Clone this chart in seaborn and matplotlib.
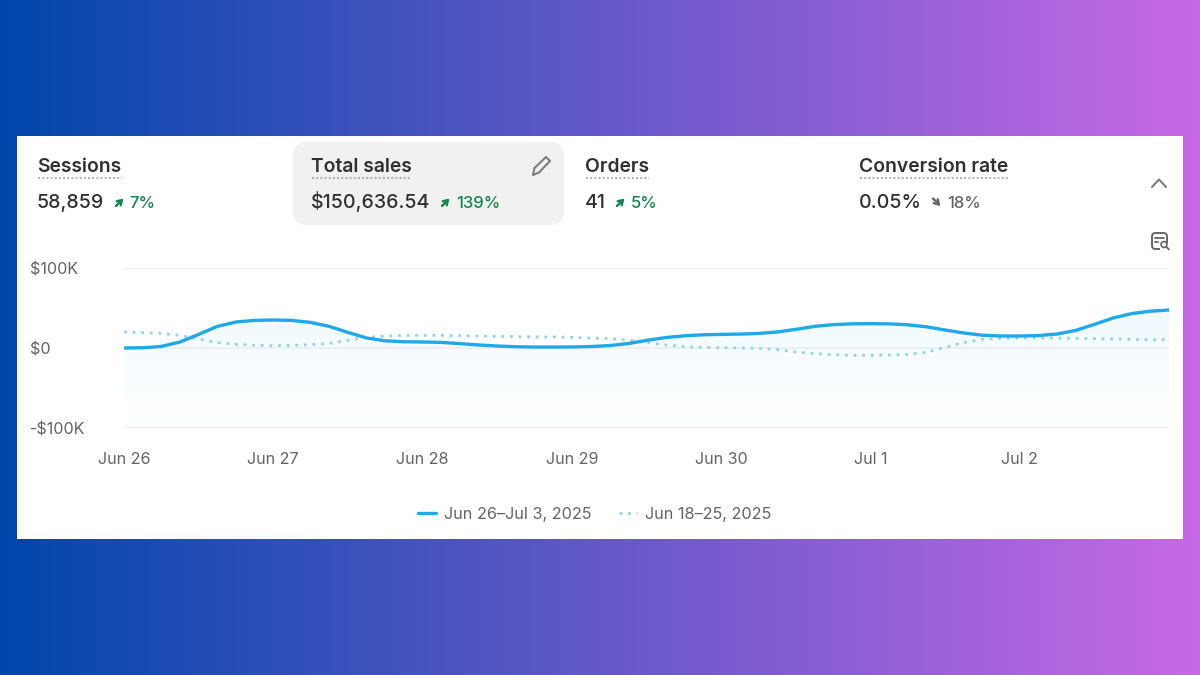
import numpy as np
import pandas as pd
import seaborn as sns
import matplotlib.pyplot as plt
from matplotlib.patches import FancyBboxPatch, Rectangle, Polygon
from matplotlib.ticker import FixedLocator
import matplotlib.dates as mdates

# sales in $K, one reading every 3 hours
current_sales = [0, 0.3, 2, 7.5, 17, 27, 32.5, 34.5, 35, 34.5, 32, 27, 19.5, 12.5, 9, 7.8, 7.5, 7, 5.5, 3.8,
                 2.5, 1.6, 1.2, 1.2, 1.3, 1.8, 3, 5.5, 9.5, 13, 15.2, 16.5, 17, 17.4, 18.2, 20, 23.3, 27,
                 29.2, 30.2, 30.4, 30.2, 29, 26.5, 22.5, 18.8, 16, 15, 15, 15.5, 17.5, 22, 29.5, 37.5, 43, 46, 47.5]
previous_sales = [20, 19.2, 18.3, 15.8, 11.3, 6.7, 4.6, 3.3, 2.9, 3.3, 4.2, 5.8, 9.6, 13.3, 15, 15.8, 15.8, 15.8,
                  15.4, 15, 14.6, 14.2, 13.8, 13.8, 13.3, 12.5, 11.7, 10, 7, 3.8, 1.7, 0.8, 0.4, 0, -0.4, -2, -5,
                  -7, -8.3, -9.2, -9.2, -8.8, -7.9, -5.4, 0.8, 6.7, 10.8, 12, 12.5, 12.5, 12.5, 12, 11.7, 11.3,
                  10.8, 10.4, 10.4]
times = pd.date_range("2025-06-26", periods=len(current_sales), freq="3h")

day_ticks = pd.date_range("2025-06-26", periods=7, freq="D")
day_labels = ["Jun 26", "Jun 27", "Jun 28", "Jun 29", "Jun 30", "Jul 1", "Jul 2"]
y_ticks = [-100, 0, 100]
y_labels = ["-$100K", "$0", "$100K"]
legend_labels = ["Jun 26\u2013Jul 3, 2025", "Jun 18\u201325, 2025"]

metric_names = ["Sessions", "Total sales", "Orders", "Conversion rate"]
metric_values = ["58,859", "$150,636.54", "41", "0.05%"]
metric_changes = ["7%", "139%", "5%", "18%"]

sns.set_theme(style="white")
plt.rcParams["font.family"] = ["Inter", "DejaVu Sans"]

df = pd.DataFrame({"time": times, "current": current_sales, "previous": previous_sales})

W, H = 1200, 675
fig = plt.figure(figsize=(12, 6.75), dpi=100)

# background + white card, in pixel coordinates
bg = fig.add_axes([0, 0, 1, 1])
bg.set_xlim(0, W)
bg.set_ylim(H, 0)
bg.axis("off")
ramp = np.linspace(0, 1, 600)
start = np.array([0, 71, 171]) / 255
end = np.array([200, 105, 230]) / 255
grad = (start[None, None, :] + (end - start)[None, None, :] * ramp[None, :, None])
bg.imshow(grad, extent=[0, W, H, 0], aspect="auto", zorder=0)
bg.add_patch(Rectangle((17, 136), 1166, 403, fc="white", ec="none", zorder=1))
bg.add_patch(FancyBboxPatch((307, 156), 243, 55, boxstyle="round,pad=14,rounding_size=14", fc="#f1f1f1", ec="#f1f1f1",
                            lw=0, zorder=2))

text_dark = "#303030"
green = "#12864f"
grey = "#646464"
name_x = [37, 311, 585, 859]
value_x = [37, 311, 585, 859]
under_end = [122, 411, 649, 1008]
change_x = [129, 456, 631, 947]
arrow_x = [120, 446, 621, 937]
change_cols = [green, green, green, grey]

for i in range(4):
    bg.text(name_x[i], 171.5, metric_names[i], fontsize=13.9, fontweight=600, color=text_dark, va="baseline", zorder=3)
    bg.plot([name_x[i] + 1, under_end[i]], [177.5, 177.5], color="#b5b5b5", lw=1.5, ls=(0, (1, 1)), zorder=3)
    bg.text(value_x[i], 208, metric_values[i], fontsize=14.1, fontweight=500, color=text_dark, va="baseline", zorder=3)
    bg.text(change_x[i], 208, metric_changes[i], fontsize=12, fontweight=500, color=change_cols[i], va="baseline",
            zorder=3)
    if i < 3:
        a, b = (arrow_x[i] - 4, 206), (arrow_x[i] + 3.5, 198.5)
    else:
        a, b = (arrow_x[i] - 4, 198.5), (arrow_x[i] + 3.5, 206)
    bg.annotate("", xy=b, xytext=a, zorder=3,
                arrowprops=dict(arrowstyle="->,head_width=0.17,head_length=0.27", color=change_cols[i], lw=1.7,
                                shrinkA=0, shrinkB=0))

# pencil
bg.add_patch(Polygon([(533, 175), (534.5, 168), (546, 157), (550, 161), (539, 172.5)], closed=True, fc="none",
                     ec="#7c7c7c", lw=1.5, joinstyle="round", zorder=3))
# chevron
bg.plot([1152, 1159, 1166], [187, 179.5, 187], color="#7a7a7a", lw=1.5, zorder=3)
# small report icon
bg.add_patch(FancyBboxPatch((1152, 233), 15, 16, boxstyle="round,pad=0,rounding_size=3.5", fc="none", ec="#666666",
                            lw=1.4, zorder=3))
bg.add_patch(Rectangle((1160, 243), 9, 7, fc="white", ec="none", zorder=3))
bg.plot([1155, 1164], [237.5, 237.5], color="#666666", lw=1.3, zorder=4)
bg.plot([1155, 1158], [241.5, 241.5], color="#666666", lw=1.3, zorder=4)
bg.scatter([1164], [244.5], s=18, fc="none", ec="#666666", lw=1.2, zorder=4)
bg.plot([1166.5, 1169], [247, 249.5], color="#666666", lw=1.3, zorder=4)

# chart, axes box is x 124-1169 and y 268-428 in pixels
ax = fig.add_axes([124 / W, 1 - 428 / H, (1169 - 124) / W, 160 / H])
ax.patch.set_alpha(0)
ax.set_zorder(2)

sns.lineplot(data=df, x="time", y="previous", ax=ax, color="#93d2e9", lw=2.0, ls=(0, (1, 2.1)),
             label=legend_labels[1], zorder=4)
sns.lineplot(data=df, x="time", y="current", ax=ax, color="#1fa8ea", lw=2.4, label=legend_labels[0], zorder=5,
             solid_joinstyle="round")

# pale area under the current line, fading to white downward
poly = ax.fill_between(times, current_sales, -100, color="none", lw=0)
top_tint = np.array([0.94, 0.98, 0.997])
mix = np.linspace(1, 0, 200)[:, None, None]
fade = np.ones((200, 2, 3)) * (1 - mix) + top_tint[None, None, :] * mix
xnum = mdates.date2num(times)
im = ax.imshow(fade, extent=[xnum[0], xnum[-1], -100, 50], aspect="auto", zorder=1)
im.set_clip_path(poly.get_paths()[0], transform=ax.transData)
ax.set_xlim(times[0], times[-1])
ax.set_ylim(-100, 100)

sns.despine(ax=ax, left=True, bottom=True)
ax.set_xlabel("")
ax.set_ylabel("")
ax.xaxis.set_major_locator(FixedLocator(mdates.date2num(day_ticks)))
ax.set_xticklabels(day_labels)
ax.set_yticks(y_ticks)
ax.set_yticklabels(y_labels)
ax.tick_params(axis="x", length=0, pad=17, labelsize=11.6, labelcolor=grey)
ax.tick_params(axis="y", length=0, pad=68, labelsize=11.6, labelcolor=grey)
for lab in ax.get_yticklabels():
    lab.set_horizontalalignment("left")
ax.grid(False)
ax.yaxis.grid(True, color="#ececec", lw=1.2)
ax.set_axisbelow(False)

handles, labels = ax.get_legend_handles_labels()
leg = ax.legend(handles[::-1], labels[::-1], loc="center", bbox_to_anchor=(594.5 / W, 1 - 514 / H),
                bbox_transform=fig.transFigure, ncol=2, frameon=False, fontsize=11.7, labelcolor=grey,
                handlelength=1.1, handletextpad=0.5, columnspacing=1.72)

fig.savefig("out.png", dpi=100)
